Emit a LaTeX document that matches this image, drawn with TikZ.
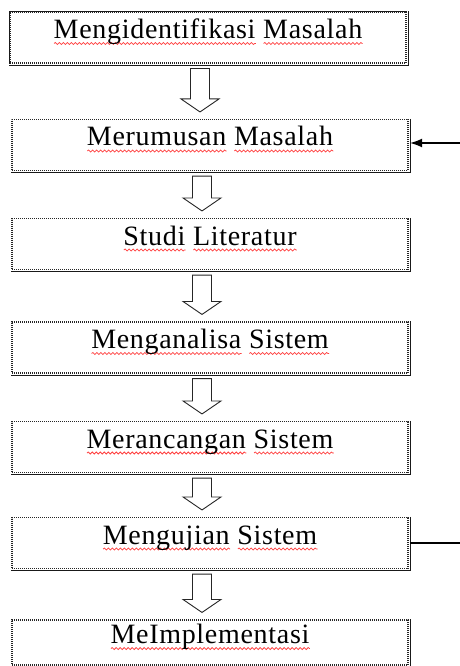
\documentclass[tikz,border=0pt]{standalone}
\usepackage{fontspec}
\setmainfont[LetterSpace=2.5]{Liberation Serif}
\usetikzlibrary{calc,arrows.meta,decorations.pathmorphing}
\newsavebox\wvbox
\newcommand\wv[1]{\sbox\wvbox{#1}%
  \rlap{\raisebox{-5pt}[0pt][0pt]{\tikz[baseline=0pt]\draw[red!75, solid, line width=0.75pt,
     decorate, decoration={snake, amplitude=1pt, segment length=4pt}] (0pt,0pt) -- (\the\wd\wvbox,0pt);}}%
  \usebox\wvbox}
\newcommand\barrow[2]{%
  \path let \p1=($(#1.south)+(-8,5)$), \p2=($(#2.north)+(-8,-7)$) in
    [draw=black!85, fill=white, line width=0.9pt, line join=miter]
    (\x1-9.5,\y1) -- (\x1+9.5,\y1) -- (\x1+9.5,\y2+13) -- (\x1+19,\y2+13)
    -- (\x1,\y2) -- (\x1-19,\y2+13) -- (\x1-9.5,\y2+13) -- cycle;}
\newcommand\shadowbox[1]{%
  \draw[line width=1.2pt, black!90]
    ($(#1.north east)+(1.6,0)$) -- ($(#1.south east)+(1.6,1.8)$) -- ($(#1.south west)+(0,1.8)$);}
\begin{document}
\begin{tikzpicture}[x=1pt,y=-1pt,
  box/.style={rectangle, draw=black!85, line width=1.1pt, dash pattern=on 1pt off 1pt,
    minimum width=396pt, minimum height=51pt, inner sep=0pt,
    text height=14pt, text depth=12pt, font=\fontsize{28}{32}\selectfont},
  link/.style={line width=1.3pt, black}]
\useasboundingbox (0,0) rectangle (460,666);
\node[box] (b1) at (208,37.5) {\wv{Mengidentifikasi} \wv{Masalah}};
\node[box] (b2) at (210,145) {\wv{Merumusan} \wv{Masalah}};
\node[box] (b3) at (210,244) {\wv{Studi} \wv{Literatur}};
\node[box] (b4) at (210,347.5) {\wv{Menganalisa} \wv{Sistem}};
\node[box] (b5) at (210,447) {\wv{Merancangan} \wv{Sistem}};
\node[box] (b6) at (210,543) {\wv{Mengujian} \wv{Sistem}};
\node[box, minimum height=45pt] (b7) at (210,642.5) {\wv{MeImplementasi}};
\foreach \b in {b1,b2,b3,b4,b5,b6} {\shadowbox{\b}}
\draw[line width=1.2pt, black!90] ($(b7.north east)+(1.6,0)$) -- ($(b7.south east)+(1.6,3)$);
\draw[line width=1.2pt, black!90] (b1.south west) -- (b1.north west) -- (b1.north east);
\barrow{b1}{b2}
\barrow{b2}{b3}
\barrow{b3}{b4}
\barrow{b4}{b5}
\barrow{b5}{b6}
\barrow{b6}{b7}
\coordinate (r1) at (460,143);
\coordinate (r2) at (460,543);
\draw[link, -{Latex[length=12pt, width=9pt]}] (r1) -- ($(b2.east |- r1)+(1.6,0)$);
\draw[link] ($(b6.east)+(1.6,0)$) -- (r2);
\end{tikzpicture}
\end{document}
